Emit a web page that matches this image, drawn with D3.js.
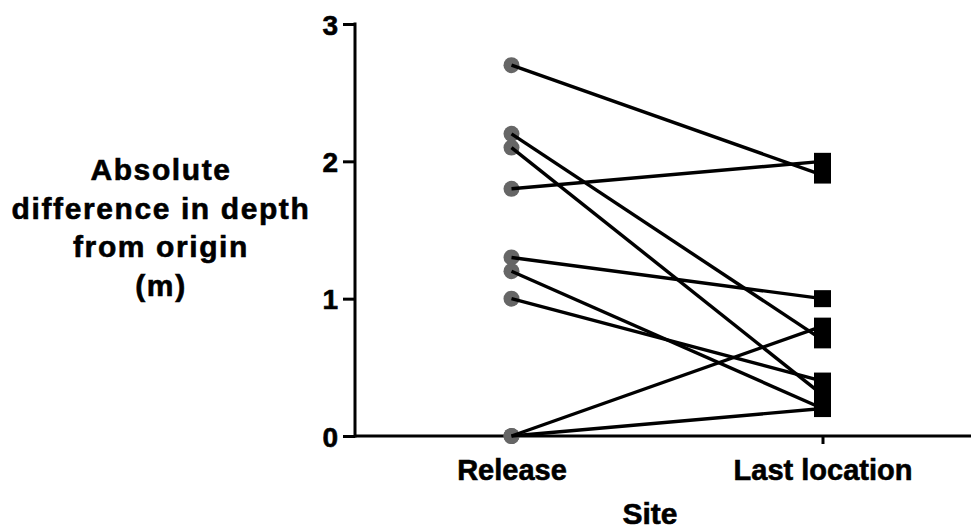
<!DOCTYPE html>
<html>
<head>
<meta charset="utf-8">
<script src="https://cdn.jsdelivr.net/npm/d3@7"></script>
<style>
	body { margin: 0; background: #fff; }
	text { font-family: "Liberation Sans", Arial, sans-serif; font-weight: bold; fill: #000; stroke: #000; stroke-width: 0.6px; }
</style>
</head>
<body>
<div id="chart"></div>
<script>
// data ///////////////////////////////////////////////////////////////////
var sites = ['Release', 'Last location'];
var releaseDepth = [2.7, 2.2, 2.1, 1.8, 1.3, 1.2, 1.0, 0, 0];
var lastDepth = [1.9, 0.7, 0.3, 2.0, 1.0, 0.2, 0.4, 0.8, 0.2];
var yTicks = [0, 1, 2, 3];
var yTitle = ['Absolute', 'difference in depth', 'from origin', '(m)'];
var xTitle = 'Site';

// layout /////////////////////////////////////////////////////////////////
var width = 971, height = 531;
var axisX = 355, axisY = 436, topY = 24;
var sq = 17, radius = 8;

var svg = d3.select('#chart').append('svg')
	.attr('width', width)
	.attr('height', height);

var x = d3.scalePoint()
	.domain(sites)
	.range([axisX + 1, axisX + 623])
	.padding(0.5);

var y = d3.scaleLinear()
	.domain([0, 3])
	.range([axisY, topY]);

var pairs = releaseDepth.map(function(d, i) { return {from: d, to: lastDepth[i]}; });

// axes
var yAxis = svg.append('g')
	.attr('transform', 'translate(' + axisX + ',0)')
	.call(d3.axisLeft(y).tickValues(yTicks).tickSize(12).tickPadding(5).tickFormat(d3.format('d')));
var xAxis = svg.append('g')
	.attr('transform', 'translate(0,' + axisY + ')')
	.call(d3.axisBottom(x).tickSize(8).tickPadding(15));

svg.selectAll('.domain').remove();
svg.selectAll('.tick line').attr('stroke', '#000').attr('stroke-width', 3);
yAxis.selectAll('text').style('font-size', '28px').attr('dy', '0.36em');
xAxis.selectAll('text').style('font-size', '29px').attr('dy', '0.71em');

svg.append('line')
	.attr('x1', axisX).attr('x2', axisX)
	.attr('y1', topY - 1.5).attr('y2', axisY + 1.5)
	.attr('stroke', '#000').attr('stroke-width', 3);
svg.append('line')
	.attr('x1', axisX).attr('x2', width)
	.attr('y1', axisY).attr('y2', axisY)
	.attr('stroke', '#000').attr('stroke-width', 3);

// release points (under the lines)
svg.selectAll('.rel')
	.data(pairs)
	.enter().append('circle')
	.attr('class', 'rel')
	.attr('cx', x('Release'))
	.attr('cy', function(d) { return y(d.from); })
	.attr('r', radius)
	.attr('fill', '#666');

svg.selectAll('.pair')
	.data(pairs)
	.enter().append('line')
	.attr('class', 'pair')
	.attr('x1', x('Release'))
	.attr('y1', function(d) { return y(d.from); })
	.attr('x2', x('Last location'))
	.attr('y2', function(d) { return y(d.to); })
	.attr('stroke', '#000')
	.attr('stroke-width', 3.4);

svg.selectAll('.last')
	.data(pairs)
	.enter().append('rect')
	.attr('class', 'last')
	.attr('x', x('Last location') - sq / 2)
	.attr('y', function(d) { return y(d.to) - sq / 2; })
	.attr('width', sq)
	.attr('height', sq)
	.attr('fill', '#000');

// titles
svg.append('text')
	.attr('x', 650)
	.attr('y', 524)
	.attr('text-anchor', 'middle')
	.style('font-size', '30px')
	.text(xTitle);

svg.append('g').selectAll('text')
	.data(yTitle)
	.enter().append('text')
	.attr('x', 161)
	.attr('y', function(d, i) { return 180 + i * 38.5; })
	.attr('text-anchor', 'middle')
	.style('font-size', '30px')
	.style('letter-spacing', '1.6px')
	.text(function(d) { return d; });
</script>
</body>
</html>
